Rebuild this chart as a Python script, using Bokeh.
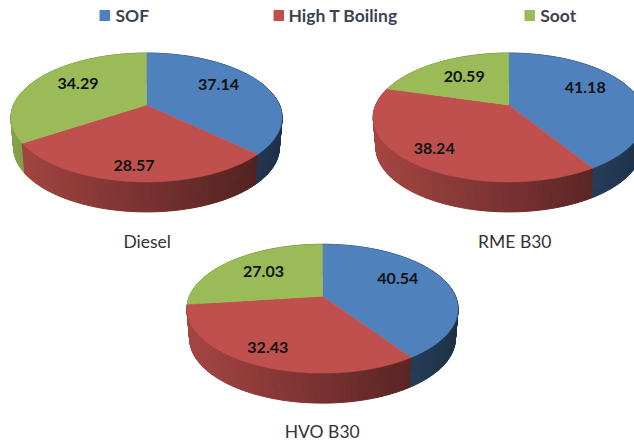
import math
from bokeh.plotting import figure, ColumnDataSource
from bokeh.core.properties import value
from bokeh.embed import file_html
from bokeh.resources import INLINE

# ---- data ----
categories = ["SOF", "High T Boiling", "Soot"]
diesel = [37.14, 28.57, 34.29]
rme_b30 = [41.18, 38.24, 20.59]
hvo_b30 = [40.54, 32.43, 27.03]
pie_names = ["Diesel", "RME B30", "HVO B30"]
colors = [(79, 129, 189), (192, 80, 77), (155, 187, 89)]

# ---- layout (image pixels) ----
W, H = 634, 441
pies = [
    dict(vals=diesel, cx=146.0, cy=104.5, title=(146.7, 240.7),
         labels=[(218.0, 84.3), (133.5, 165.0), (77.5, 82.7)]),
    dict(vals=rme_b30, cx=508.3, cy=104.5, title=(514.3, 240.7),
         labels=[(584.7, 86.7), (433.7, 148.3), (463.7, 75.7)]),
    dict(vals=hvo_b30, cx=322.0, cy=295.7, title=(321.7, 431.0),
         labels=[(397.3, 278.3), (267.3, 346.7), (263.0, 270.7)]),
]
legend_squares = [(104.3, 15.0), (278.3, 15.0), (529.2, 15.0)]
legend_text_x = [115.0, 288.0, 539.7]
SX, SY, K = 133.0, 62.0, 0.194   # perspective of the disc
DEPTH, BOTTOM_SCALE = 30.0, 0.98
LABEL_FONT = "Lato"

p = figure(width=W, height=H, x_range=(0, W), y_range=(H, 0),
           output_backend="svg", toolbar_location=None, min_border=0,
           outline_line_color=None, background_fill_color="white")
p.axis.visible = False
p.grid.visible = False


def project(deg):
    a = math.radians(deg)
    u, v = math.sin(a), math.cos(a)
    w = 1 + K * v
    return SX * u / w, -SY * v / w


def hex_col(rgb, f=1.0):
    return "#%02x%02x%02x" % tuple(max(0, min(255, round(c * f))) for c in rgb)


for pie in pies:
    cx, cy = pie["cx"], pie["cy"]
    total = sum(pie["vals"])
    strips = []
    start = 0.0
    slices = []
    for val, col in zip(pie["vals"], colors):
        end = start + 360.0 * val / total
        slices.append((start, end, col))
        n = max(2, int((end - start)))
        angs = [start + (end - start) * i / n for i in range(n + 1)]
        for a0, a1 in zip(angs[:-1], angs[1:]):
            x0, y0 = project(a0)
            x1, y1 = project(a1)
            t = ((x0 + x1) / 2 + SX) / (2 * SX)
            strips.append(((y0 + y1) / 2,
                           [cx + x0, cx + x1, cx + x1 * BOTTOM_SCALE, cx + x0 * BOTTOM_SCALE],
                           [cy + y0, cy + y1, cy + y1 + DEPTH, cy + y0 + DEPTH],
                           hex_col(col, 0.86 - 0.48 * max(0.0, min(1.0, t)))))
        start = end
    strips.sort(key=lambda s: s[0])   # back to front
    src = ColumnDataSource(dict(xs=[s[1] for s in strips], ys=[s[2] for s in strips],
                                c=[s[3] for s in strips]))
    p.patches("xs", "ys", source=src, fill_color="c", line_color="c", line_width=1.0)
    # top of the disc
    for s, e, col in slices:
        n = max(2, int(e - s))
        px = [cx]
        py = [cy]
        for i in range(n + 1):
            x, y = project(s + (e - s) * i / n)
            px.append(cx + x)
            py.append(cy + y)
        c = hex_col(col)
        p.patch(px, py, fill_color=c, line_color=c, line_width=0.5)
    # value labels
    lx = [q[0] for q in pie["labels"]]
    ly = [q[1] for q in pie["labels"]]
    p.text(lx, ly, text=["%.2f" % v for v in pie["vals"]], text_align="center",
           text_baseline="middle", text_font=value(LABEL_FONT), text_font_style="bold",
           text_font_size="16px", text_color="#111111")

# pie names
p.text([q["title"][0] for q in pies], [q["title"][1] for q in pies], text=pie_names,
       text_align="center", text_baseline="middle", text_font=value(LABEL_FONT),
       text_font_size="17.5px", text_color="#333333")

# legend
p.rect([q[0] for q in legend_squares], [q[1] for q in legend_squares], width=10.5, height=11,
       fill_color=[hex_col(c) for c in colors], line_color=None)
p.text(legend_text_x, [15.0] * 3, text=categories, text_align="left", text_baseline="middle",
       text_font=value(LABEL_FONT), text_font_style="bold", text_font_size="17.5px",
       text_color="#3b4350")

open("out.html", "w").write(file_html(p, INLINE))
